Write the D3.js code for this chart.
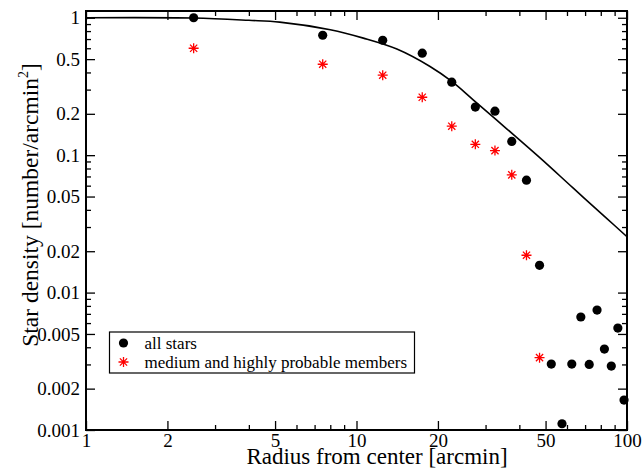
<!DOCTYPE html>
<html>
<head>
<meta charset="utf-8">
<script src="https://cdn.jsdelivr.net/npm/d3@7"></script>
<style>
  body { margin: 0; background: #fff; }
  text { font-family: "Liberation Serif", "Times New Roman", serif; }
</style>
</head>
<body>
<div id="chart"></div>
<script>
// radial bins (arcmin) and densities
const radiusAll = [2.5, 7.5, 12.5, 17.5, 22.5, 27.5, 32.5, 37.5, 42.5, 47.5,
                   52.5, 57.5, 62.5, 67.5, 72.5, 77.5, 82.5, 87.5, 92.5, 97.5];
const densityAll = [1.0, 0.746, 0.686, 0.552, 0.34, 0.224, 0.209, 0.126, 0.0658, 0.0158,
                    0.00302, 0.00111, 0.00302, 0.00664, 0.0030, 0.00746, 0.00388, 0.00292, 0.00552, 0.00165];

const radiusMembers = [2.5, 7.5, 12.5, 17.5, 22.5, 27.5, 32.5, 37.5, 42.5, 47.5];
const densityMembers = [0.6, 0.459, 0.382, 0.264, 0.1625, 0.120, 0.108, 0.0719, 0.0187, 0.00336];

// fitted profile, sampled from the drawn curve
const radiusFit = [1, 2.5, 4, 5.2, 8.0, 10.6, 14.1, 18.7, 22.5, 27, 36, 47.7, 63.3, 84.1, 100];
const densityFit = [1.0, 0.995, 0.958, 0.93, 0.818, 0.711, 0.592, 0.442, 0.344, 0.253, 0.155, 0.0955, 0.0575, 0.0347, 0.0255];

const xMajor = [1, 2, 5, 10, 20, 50, 100];
const yMajor = [1, 0.5, 0.2, 0.1, 0.05, 0.02, 0.01, 0.005, 0.002, 0.001];

const legendLabels = ["all stars", "medium and highly probable members"];

const W = 644, H = 470;
const margin = {top: 11, right: 17, bottom: 40, left: 86};
const w = W - margin.left - margin.right;
const h = H - margin.top - margin.bottom;

const svg = d3.select("#chart").append("svg")
  .attr("width", W)
  .attr("height", H)
  .attr("font-family", "Liberation Serif");

const g = svg.append("g")
  .attr("transform", `translate(${margin.left},${margin.top})`);

const x = d3.scaleLog().domain([1, 100]).range([0, w]);
const y = d3.scaleLog().domain([0.001, 1.12]).range([h, 0]);

const fmt = d3.format("~g");
const xMinor = x.ticks().filter(d => !xMajor.includes(d));
const yMinor = y.ticks().filter(d => !yMajor.some(m => Math.abs(m - d) < 1e-9));

function styleAxis(sel) {
  sel.attr("font-family", "Liberation Serif");
  sel.select(".domain").remove();
  sel.selectAll("line").attr("stroke", "#000").attr("stroke-width", 1.3);
  sel.selectAll("text").attr("fill", "#000").attr("font-size", 19);
}

// bottom
g.append("g").attr("transform", `translate(0,${h})`)
  .call(d3.axisBottom(x).tickValues(xMajor).tickSize(-9).tickPadding(4).tickFormat(fmt))
  .call(styleAxis);
g.append("g").attr("transform", `translate(0,${h})`)
  .call(d3.axisBottom(x).tickValues(xMinor).tickSize(-5).tickFormat(""))
  .call(styleAxis);
// top
g.append("g")
  .call(d3.axisTop(x).tickValues(xMajor).tickSize(-9).tickFormat(""))
  .call(styleAxis);
g.append("g")
  .call(d3.axisTop(x).tickValues(xMinor).tickSize(-5).tickFormat(""))
  .call(styleAxis);
// left
g.append("g")
  .call(d3.axisLeft(y).tickValues(yMajor).tickSize(-9).tickPadding(6).tickFormat(fmt))
  .call(styleAxis);
g.append("g")
  .call(d3.axisLeft(y).tickValues(yMinor).tickSize(-5).tickFormat(""))
  .call(styleAxis);
// right
g.append("g").attr("transform", `translate(${w},0)`)
  .call(d3.axisRight(y).tickValues(yMajor).tickSize(-9).tickFormat(""))
  .call(styleAxis);
g.append("g").attr("transform", `translate(${w},0)`)
  .call(d3.axisRight(y).tickValues(yMinor).tickSize(-5).tickFormat(""))
  .call(styleAxis);

// frame
g.append("rect")
  .attr("width", w).attr("height", h)
  .attr("fill", "none")
  .attr("stroke", "#000")
  .attr("stroke-width", 2);

// fit curve
const fit = radiusFit.map((r, i) => [r, densityFit[i]]);
g.append("path")
  .datum(fit)
  .attr("fill", "none")
  .attr("stroke", "#000")
  .attr("stroke-width", 1.6)
  .attr("d", d3.line().x(d => x(d[0])).y(d => y(d[1])).curve(d3.curveCatmullRom.alpha(0.5)));

// asterisk marker
const star = (s) => `M0,${-s}V${s}M${-s},0H${s}` +
  `M${-s * 0.72},${-s * 0.72}L${s * 0.72},${s * 0.72}M${-s * 0.72},${s * 0.72}L${s * 0.72},${-s * 0.72}`;

g.selectAll(".all")
  .data(radiusAll.map((r, i) => [r, densityAll[i]]))
  .join("circle")
  .attr("class", "all")
  .attr("cx", d => x(d[0]))
  .attr("cy", d => y(d[1]))
  .attr("r", 4.6)
  .attr("fill", "#000");

g.selectAll(".mem")
  .data(radiusMembers.map((r, i) => [r, densityMembers[i]]))
  .join("path")
  .attr("class", "mem")
  .attr("transform", d => `translate(${x(d[0])},${y(d[1])})`)
  .attr("d", star(5))
  .attr("stroke", "#f00")
  .attr("stroke-width", 1.3)
  .attr("fill", "none");

// legend
const leg = svg.append("g").attr("transform", "translate(109.5,332)");
leg.append("rect")
  .attr("width", 305).attr("height", 41)
  .attr("fill", "#fff")
  .attr("stroke", "#000")
  .attr("stroke-width", 1.2);
leg.append("circle").attr("cx", 14).attr("cy", 11).attr("r", 4.6).attr("fill", "#000");
leg.append("path").attr("transform", "translate(14,30)").attr("d", star(5))
  .attr("stroke", "#f00").attr("stroke-width", 1.3);
leg.selectAll(".lt")
  .data(legendLabels)
  .join("text")
  .attr("x", 35)
  .attr("y", (d, i) => 11 + i * 19)
  .attr("dy", "0.35em")
  .attr("font-size", 17)
  .text(d => d);

// axis titles
svg.append("text")
  .attr("x", 377)
  .attr("y", 464)
  .attr("text-anchor", "middle")
  .attr("font-size", 23)
  .text("Radius from center [arcmin]");

const yt = svg.append("text")
  .attr("transform", "translate(38,205) rotate(-90)")
  .attr("text-anchor", "middle")
  .attr("font-size", 23.5);
yt.append("tspan").text("Star density [number/arcmin");
yt.append("tspan").attr("font-size", 14).attr("dy", -10).text("2");
yt.append("tspan").attr("dy", 10).text("]");
</script>
</body>
</html>
